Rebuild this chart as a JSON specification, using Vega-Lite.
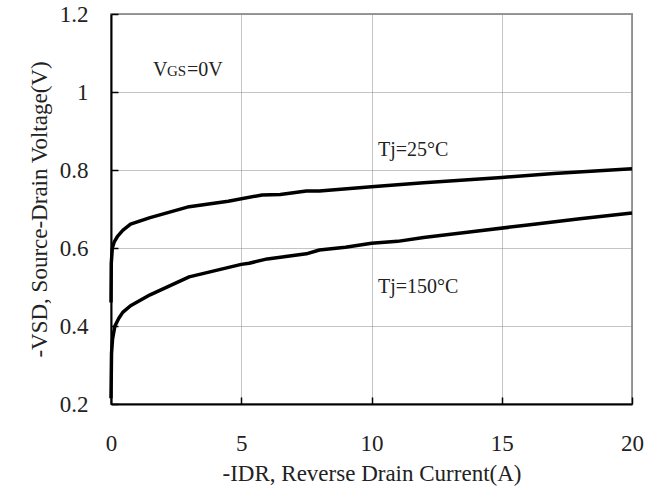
{
  "$schema": "https://vega.github.io/schema/vega-lite/v6.json",
  "width": 521,
  "height": 390,
  "autosize": {"type": "none"},
  "padding": {"left": 111, "top": 14, "right": 24, "bottom": 86},
  "background": "white",
  "config": {
    "font": "Liberation Serif",
    "view": {"stroke": "#999999", "strokeWidth": 2},
    "axis": {
      "domainColor": "black",
      "domainWidth": 2,
      "tickColor": "black",
      "tickWidth": 1.5,
      "tickSize": -7,
      "gridColor": "#888888",
      "gridDash": [1, 1],
      "gridWidth": 1,
      "labelFont": "Liberation Serif",
      "labelFontSize": 23,
      "labelColor": "#222222",
      "labelFlush": false,
      "labelOverlap": false,
      "titleFont": "Liberation Serif",
      "titleFontSize": 23,
      "titleFontWeight": "normal",
      "titleColor": "#222222"
    }
  },
  "datasets": {
    "curves": [
      {"series": "25", "I": 0, "V": 0.46},
      {"series": "25", "I": 0.01, "V": 0.56},
      {"series": "25", "I": 0.05, "V": 0.6},
      {"series": "25", "I": 0.12, "V": 0.615},
      {"series": "25", "I": 0.25, "V": 0.63},
      {"series": "25", "I": 0.45, "V": 0.645},
      {"series": "25", "I": 0.75, "V": 0.661},
      {"series": "25", "I": 1.5, "V": 0.678},
      {"series": "25", "I": 3, "V": 0.706},
      {"series": "25", "I": 4.5, "V": 0.72},
      {"series": "25", "I": 5.8, "V": 0.736},
      {"series": "25", "I": 6.5, "V": 0.737},
      {"series": "25", "I": 7.5, "V": 0.746},
      {"series": "25", "I": 8, "V": 0.746},
      {"series": "25", "I": 10, "V": 0.757},
      {"series": "25", "I": 12, "V": 0.767},
      {"series": "25", "I": 15, "V": 0.781},
      {"series": "25", "I": 17, "V": 0.791},
      {"series": "25", "I": 20, "V": 0.803},
      {"series": "150", "I": 0, "V": 0.215},
      {"series": "150", "I": 0.02, "V": 0.33},
      {"series": "150", "I": 0.06, "V": 0.367},
      {"series": "150", "I": 0.15, "V": 0.4},
      {"series": "150", "I": 0.3, "V": 0.42},
      {"series": "150", "I": 0.45, "V": 0.435},
      {"series": "150", "I": 0.75, "V": 0.452},
      {"series": "150", "I": 1.5, "V": 0.48},
      {"series": "150", "I": 3, "V": 0.526},
      {"series": "150", "I": 5, "V": 0.558},
      {"series": "150", "I": 5.3, "V": 0.561},
      {"series": "150", "I": 6, "V": 0.572},
      {"series": "150", "I": 7.5, "V": 0.585},
      {"series": "150", "I": 8, "V": 0.595},
      {"series": "150", "I": 9, "V": 0.602},
      {"series": "150", "I": 10, "V": 0.612},
      {"series": "150", "I": 11, "V": 0.617},
      {"series": "150", "I": 12, "V": 0.627},
      {"series": "150", "I": 14, "V": 0.643},
      {"series": "150", "I": 16, "V": 0.659},
      {"series": "150", "I": 18, "V": 0.675},
      {"series": "150", "I": 20, "V": 0.69}
    ],
    "bigtext": [
      {"I": 1.61, "V": 1.042, "label": "V"},
      {"I": 2.92, "V": 1.042, "label": "=0V"},
      {"I": 10.25, "V": 0.836, "label": "Tj=25°C"},
      {"I": 10.25, "V": 0.485, "label": "Tj=150°C"}
    ],
    "smalltext": [
      {"I": 2.15, "V": 1.042, "label": "GS"}
    ]
  },
  "layer": [
    {
      "data": {"name": "curves"},
      "mark": {"type": "line", "strokeWidth": 3.5, "strokeJoin": "round", "strokeCap": "butt"},
      "encoding": {
        "x": {
          "field": "I", "type": "quantitative",
          "scale": {"domain": [0, 20], "nice": false},
          "axis": {"values": [0, 5, 10, 15, 20], "labelPadding": 35, "title": "-IDR, Reverse Drain Current(A)", "titlePadding": 7}
        },
        "y": {
          "field": "V", "type": "quantitative",
          "scale": {"domain": [0.2, 1.2], "nice": false, "zero": false},
          "axis": {"values": [0.2, 0.4, 0.6, 0.8, 1.0, 1.2], "format": "~g", "labelPadding": 30, "title": "-VSD, Source-Drain Voltage(V)", "titlePadding": 8}
        },
        "detail": {"field": "series", "type": "nominal"},
        "color": {"value": "black"}
      }
    },
    {
      "data": {"name": "bigtext"},
      "mark": {"type": "text", "align": "left", "baseline": "alphabetic", "fontSize": 20, "font": "Liberation Serif", "color": "#222222"},
      "encoding": {
        "x": {"field": "I", "type": "quantitative"},
        "y": {"field": "V", "type": "quantitative"},
        "text": {"field": "label"}
      }
    },
    {
      "data": {"name": "smalltext"},
      "mark": {"type": "text", "align": "left", "baseline": "alphabetic", "fontSize": 15, "font": "Liberation Serif", "color": "#222222"},
      "encoding": {
        "x": {"field": "I", "type": "quantitative"},
        "y": {"field": "V", "type": "quantitative"},
        "text": {"field": "label"}
      }
    }
  ]
}
